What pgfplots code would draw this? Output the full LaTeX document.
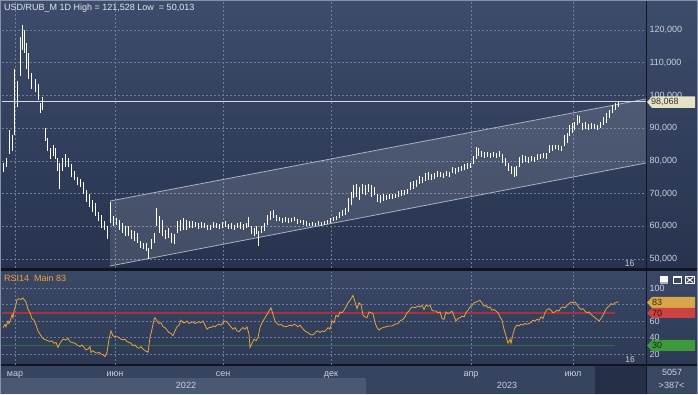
\documentclass[border=0pt]{standalone}
\usepackage{fontspec}
\setmainfont{Liberation Sans}
\usepackage{pgfplots}
\pgfplotsset{compat=1.18}
\usepackage{pgfplotstable}

\definecolor{bgdark}{HTML}{222B40}
\definecolor{mainTop}{HTML}{3D4C6B}
\definecolor{mainBot}{HTML}{27334E}
\definecolor{rsiTop}{HTML}{3A4866}
\definecolor{rsiBot}{HTML}{2D3954}
\definecolor{strip}{HTML}{36445F}
\definecolor{yearA}{HTML}{4A5873}
\definecolor{darkblock}{HTML}{252F47}
\definecolor{cornerc}{HTML}{3A4763}
\definecolor{sepc}{HTML}{10161F}
\definecolor{borderc}{HTML}{8592AA}
\definecolor{gridc}{HTML}{6C7C9C}
\definecolor{labc}{HTML}{C9D1DE}
\definecolor{titlec}{HTML}{E4E8EE}
\definecolor{chanc}{HTML}{A9B1C1}
\definecolor{hlinec}{HTML}{D6DAE2}
\definecolor{rsiorange}{HTML}{E9A23B}
\definecolor{red70}{HTML}{A3343F}
\definecolor{green30}{HTML}{2E6E3E}
\definecolor{taggold}{HTML}{D8A548}
\definecolor{tagred}{HTML}{CC4141}
\definecolor{taggreen}{HTML}{3C9A3C}
\definecolor{tagbeige}{HTML}{E6E2C5}

\pgfplotstableread{
x lo hi
4 76.5 79.5
7 78.0 81.0
10 82.0 89.5
13 83.0 88.0
15 88.0 108.0
18 96.5 104.5
21 106.0 118.0
23 114.0 121.5
25 113.0 120.0
27 108.0 116.0
29 105.0 113.0
32 102.0 107.0
35 101.0 105.0
38 98.5 103.5
40 94.6 97.7
42 95.5 99.5
45 86.0 90.0
47 83.0 87.0
50 80.5 84.0
53 81.5 85.0
55 80.5 84.0
57 77.0 81.0
59 71.5 79.5
62 77.0 81.0
65 78.0 82.0
68 78.0 81.0
71 75.0 79.0
74 74.0 77.0
77 72.5 75.0
80 72.0 74.5
83 70.0 73.5
86 67.5 71.0
89 66.0 70.0
92 64.5 68.0
95 63.0 67.0
98 61.5 64.5
101 59.5 63.5
104 59.0 61.5
107 56.0 60.0
110 61.0 67.5
113 60.0 63.0
116 60.5 62.5
119 59.0 62.0
122 58.0 61.0
125 57.0 60.0
128 57.0 60.0
131 56.0 59.0
134 55.5 58.5
137 55.0 58.0
140 53.5 55.5
143 53.0 55.0
146 52.5 55.0
148 50.0 53.5
151 53.0 56.0
154 55.0 58.0
156 60.0 65.5
159 58.0 63.0
162 57.0 62.0
165 56.0 59.0
168 56.5 59.5
171 55.0 58.0
174 54.5 57.5
177 58.0 61.5
180 58.5 62.0
183 59.0 62.5
186 59.0 62.0
189 59.5 61.5
192 59.5 61.5
195 59.8 61.2
198 59.3 61.0
201 59.6 61.3
204 59.5 61.0
207 58.8 60.3
210 59.0 60.5
213 59.4 61.2
216 59.6 61.0
219 59.2 60.8
222 59.6 61.3
225 59.8 61.5
228 59.2 60.8
231 59.3 61.0
234 59.0 60.5
237 59.5 61.0
240 59.2 61.2
243 59.0 60.6
246 59.5 61.0
248 59.8 62.8
251 57.5 60.0
254 57.0 59.5
256 57.5 60.0
258 54.0 58.5
261 58.0 60.0
264 58.5 61.0
267 60.5 63.5
270 62.0 64.8
273 62.5 65.0
276 61.5 63.5
279 61.5 62.8
282 61.0 62.5
285 61.3 62.8
288 61.0 62.5
291 61.2 62.6
294 61.5 62.9
297 60.8 62.3
300 61.0 62.0
303 60.5 61.8
306 60.2 61.6
309 60.0 61.0
312 60.0 61.2
315 60.2 61.0
318 60.3 61.5
321 60.0 61.2
324 60.5 61.6
327 60.8 61.9
330 61.0 62.5
333 61.5 62.8
336 61.8 63.2
339 62.5 64.5
342 63.0 65.0
345 63.5 65.5
348 64.5 68.5
351 66.5 70.5
353 68.5 72.5
356 69.0 73.0
359 68.0 72.0
362 70.0 73.0
365 69.5 72.5
368 70.5 73.0
371 69.0 72.5
374 69.5 72.0
377 67.5 70.0
380 67.0 69.5
383 67.8 69.8
386 68.0 69.6
389 68.2 69.8
392 68.3 69.8
395 68.6 70.0
398 69.0 70.8
401 69.4 71.0
404 69.6 71.2
407 70.0 71.5
410 71.0 73.5
413 71.5 73.8
416 72.0 74.0
419 73.0 75.3
422 73.2 75.0
425 73.8 76.2
428 74.2 76.5
431 74.0 76.0
434 74.5 76.3
437 75.0 76.8
440 75.2 76.6
443 74.8 76.4
446 75.3 77.0
449 75.0 76.5
452 76.3 78.2
455 76.0 77.8
458 76.5 78.2
461 76.8 78.5
464 77.2 79.0
467 77.5 79.2
470 77.8 79.5
473 79.0 81.5
476 80.5 84.3
478 81.5 83.8
481 81.2 83.0
484 81.0 82.6
487 81.3 82.8
490 81.0 82.5
493 81.2 82.7
496 80.8 82.4
499 81.2 83.0
502 79.5 82.0
505 78.5 81.0
508 77.0 79.5
511 76.0 78.5
514 75.0 78.0
516 75.5 78.5
519 78.0 81.3
522 79.5 81.8
525 79.8 81.5
528 79.5 81.2
531 80.0 81.6
534 79.8 81.3
537 80.3 82.2
540 80.5 82.0
543 80.8 82.3
546 80.6 82.5
549 82.5 85.0
552 83.0 85.0
555 83.5 85.0
558 83.2 84.8
561 83.0 84.6
564 84.5 87.8
567 85.5 88.5
569 87.5 91.0
572 88.5 91.5
574 89.5 92.0
577 91.0 94.0
579 91.5 93.8
582 89.5 91.5
585 89.8 91.8
588 89.5 91.2
591 89.8 91.6
594 89.6 91.3
597 89.4 91.0
600 90.0 91.8
603 91.0 93.5
606 91.5 94.5
609 93.0 95.5
612 94.5 97.0
615 95.5 97.8
618 96.5 98.2
}\pricedata

\pgfplotstableread{
x r
3 52
5 56
6 53
8 60
9 57
11 63
12 68
13 64
14 72
16 80
17 86
19 87
21 86
23 88
24 86
26 83
28 74
30 70
32 63
34 61
36 55
38 48
40 44
42 40
44 38
46 37
48 36
50 35
52 36
54 33
56 34
58 28
60 33
63 38
66 37
68 39
70 35
72 34
75 33
77 31
80 29
82 31
84 28
86 25
88 26
90 29
91 22
93 24
95 22
97 21
99 22
101 20
103 19
105 17
107 22
109 38
111 48
113 42
115 41
117 41
119 40
121 38
123 37
125 38
127 35
129 34
131 33
133 30
135 31
137 28
139 27
141 29
143 26
145 24
147 23
148 22
150 40
152 50
154 62
155 64
157 60
159 57
161 58
163 53
165 52
167 49
169 46
171 45
173 42
175 48
177 53
179 55
181 61
183 58
185 58
187 60
189 57
191 58
193 59
195 57
197 58
199 59
201 58
203 60
205 55
207 50
209 52
211 52
213 54
215 53
217 55
219 56
221 55
223 58
225 60
227 59
229 56
231 53
233 50
235 52
237 48
239 47
241 50
243 52
245 50
247 53
249 44
250 28
252 33
254 38
256 36
258 40
260 52
262 58
264 62
266 66
268 70
270 74
271 76
273 68
275 60
277 57
279 55
281 56
283 54
286 53
288 54
290 55
292 54
294 56
296 55
298 53
300 55
302 52
304 49
306 47
308 46
310 44
312 43
314 44
316 47
318 48
320 46
322 48
324 47
326 49
328 52
330 50
332 60
334 58
336 67
338 65
340 71
342 70
344 73
346 77
348 82
350 85
352 89
353 91
355 83
357 75
359 82
361 80
363 67
365 65
367 64
369 71
371 70
373 69
375 58
377 52
379 49
381 51
383 52
386 53
389 54
392 54
395 56
398 57
400 60
403 62
405 65
407 70
409 72
411 76
413 77
415 76
418 78
420 77
422 79
424 74
426 79
428 78
430 79
432 73
434 72
436 72
438 70
440 71
442 63
444 62
446 71
448 69
450 70
452 72
454 66
456 60
458 63
460 64
462 66
464 65
466 70
468 73
470 77
472 79
474 82
476 83
478 84
480 85
482 82
484 78
486 79
488 76
490 77
492 73
494 74
496 72
498 70
500 65
502 61
504 50
506 42
507 37
508 33
510 38
511 33
513 44
515 52
517 55
519 54
521 56
523 55
525 57
527 56
529 57
531 58
533 61
535 60
537 62
539 61
541 65
543 63
545 70
547 74
549 75
551 73
553 70
555 71
557 73
559 72
561 76
563 77
565 76
567 79
569 81
571 83
573 82
575 83
577 80
579 76
581 74
583 75
585 72
587 70
589 71
591 68
593 66
595 64
597 62
599 60
601 63
603 67
605 72
607 76
609 78
611 81
613 80
615 82
617 83
619 83
}\rsidata

\pgfplotsset{
  chartbase/.style={
    scale only axis, anchor=south west,
    width=644pt,
    xmin=2, xmax=646,
    axis line style={draw=none},
    major tick length=0pt,
    xmajorgrids, ymajorgrids,
    grid style={gridc, line width=0.5pt, dash pattern=on 2pt off 2pt},
    xtick={15,115,223,331,471,573},
    yticklabel pos=right,
    /pgf/number format/assume math mode=true,
    ticklabel style={font=\fontsize{9}{10}\selectfont, text=labc},
  }
}

\begin{document}
\begin{tikzpicture}
\useasboundingbox (0,0) rectangle (698pt,395pt);
\begin{scope}[x=1pt,y=1pt]
\fill[bgdark] (0,0) rectangle (698,395);
\shade[top color=mainTop, bottom color=mainBot] (0,126) rectangle (698,395);
\shade[top color=rsiTop, bottom color=rsiBot] (0,30) rectangle (698,124);
\fill[strip] (0,0) rectangle (646,30);
\fill[yearA] (0,1) rectangle (366,16.5);
\fill[darkblock] (595,1) rectangle (646,29.5);
\fill[cornerc] (647,1) rectangle (698,29.5);
\fill[sepc] (0,124) rectangle (698,126.5);
\fill[sepc] (0,29.3) rectangle (698,30.6);
\fill[sepc] (645.8,0) rectangle (647.2,395);
\draw[borderc, line width=1pt] (0.5,0.5) rectangle (697.5,394.5);
\fill[white!80!labc] (0,0) rectangle (698,1.2);
\end{scope}

% ---------------- main price panel ----------------
\begin{axis}[chartbase,
  at={(2pt,127pt)}, height=266pt,
  ymin=47.25, ymax=128.57,
  xticklabel=\empty,
  ytick={50,60,70,80,90,100,110,120},
  yticklabels={{50,000},{60,000},{70,000},{80,000},{90,000},{100,000},{110,000},{120,000}},
]
\addplot[fill=white, fill opacity=0.13, draw=none]
  coordinates {(110,67.73) (646,98.92) (646,79.35) (110,47.86)} -- cycle;
\addplot[chanc, line width=0.8pt] coordinates {(110,67.73) (646,98.92)};
\addplot[chanc, line width=0.8pt] coordinates {(110,47.86) (646,79.35)};
\addplot[hlinec, line width=0.8pt] coordinates {(2,98.068) (646,98.068)};
\addplot[white, line width=1pt, quiver={u=0, v=\thisrow{hi}-\thisrow{lo}}]
  table[x=x, y=lo] {\pricedata};
\end{axis}

% ---------------- RSI panel ----------------
\begin{axis}[chartbase,
  at={(2pt,30pt)}, height=93pt,
  ymin=6.67, ymax=119.4,
  ytick={20,40,60,80,100},
  yticklabels={20,40,60,{},100},
  xticklabels={мар,июн,сен,дек,апр,июл},
  xticklabel style={anchor=base, yshift=-12pt},
]
\addplot[red70, line width=1.6pt] coordinates {(2,70) (615,70)};
\addplot[green30, line width=1.3pt] coordinates {(2,30) (615,30)};
\addplot[rsiorange, line width=0.8pt] table[x=x, y=r] {\rsidata};
\end{axis}

\begin{scope}[x=1pt,y=1pt, every node/.style={inner sep=0pt}]
\node[anchor=base west, text=titlec, font=\fontsize{9}{10}\selectfont] at (4,384.5) {USD/RUB\_M 1D High = 121,528 Low \ = 50,013};
\node[anchor=base west, text=rsiorange, font=\fontsize{9}{10}\selectfont] at (4,113) {RSI14 \ Main 83};
\node[text=labc, font=\fontsize{8.5}{10}\selectfont] at (629.5,131) {16};
\node[text=labc, font=\fontsize{8.5}{10}\selectfont] at (630,35) {16};
\node[text=labc, font=\fontsize{9}{10}\selectfont] at (186,9.5) {2022};
\node[text=labc, font=\fontsize{9}{10}\selectfont] at (507,9.5) {2023};
\node[text=labc, font=\fontsize{9}{10}\selectfont] at (672,22.5) {5057};
\node[text=labc, font=\fontsize{9}{10}\selectfont] at (671.5,9.5) {>387<};
% price tag
\fill[tagbeige] (647,293) -- (652,298.5) -- (695,298.5) -- (695,287) -- (652,287) -- cycle;
\node[anchor=west, text=black!80, font=\fontsize{9}{10}\selectfont] at (651,292.8) {98,068};
% RSI tags
\fill[taggold] (647,92.5) -- (652,98) -- (695,98) -- (695,87) -- (652,87) -- cycle;
\node[anchor=west, text=black!75!taggold, font=\fontsize{9}{10}\selectfont] at (652,92.5) {83};
\fill[tagred] (647,82) -- (652,87) -- (695,87) -- (695,77) -- (652,77) -- cycle;
\node[anchor=west, text=black!75!tagred, font=\fontsize{9}{10}\selectfont] at (652,82) {70};
\fill[taggreen] (647,49.5) -- (652,55) -- (695,55) -- (695,44) -- (652,44) -- cycle;
\node[anchor=west, text=black!70!taggreen, font=\fontsize{9}{10}\selectfont] at (652,49.5) {30};
% window icons
\fill[white!85!labc] (660,111) rectangle (668,119);
\fill[gray!60] (660,111) rectangle (668,113);
\draw[white, line width=0.8pt] (673.4,111.4) rectangle (681.6,118.6);
\draw[white, line width=1.6pt] (673.4,118.2) -- (681.6,118.2);
\draw[white!80!labc, line width=0.6pt] (685.3,111.3) rectangle (694.2,118.7);
\draw[white, line width=0.9pt] (686.5,112.5) -- (693,117.5) (686.5,117.5) -- (693,112.5);
\end{scope}
\end{tikzpicture}
\end{document}
